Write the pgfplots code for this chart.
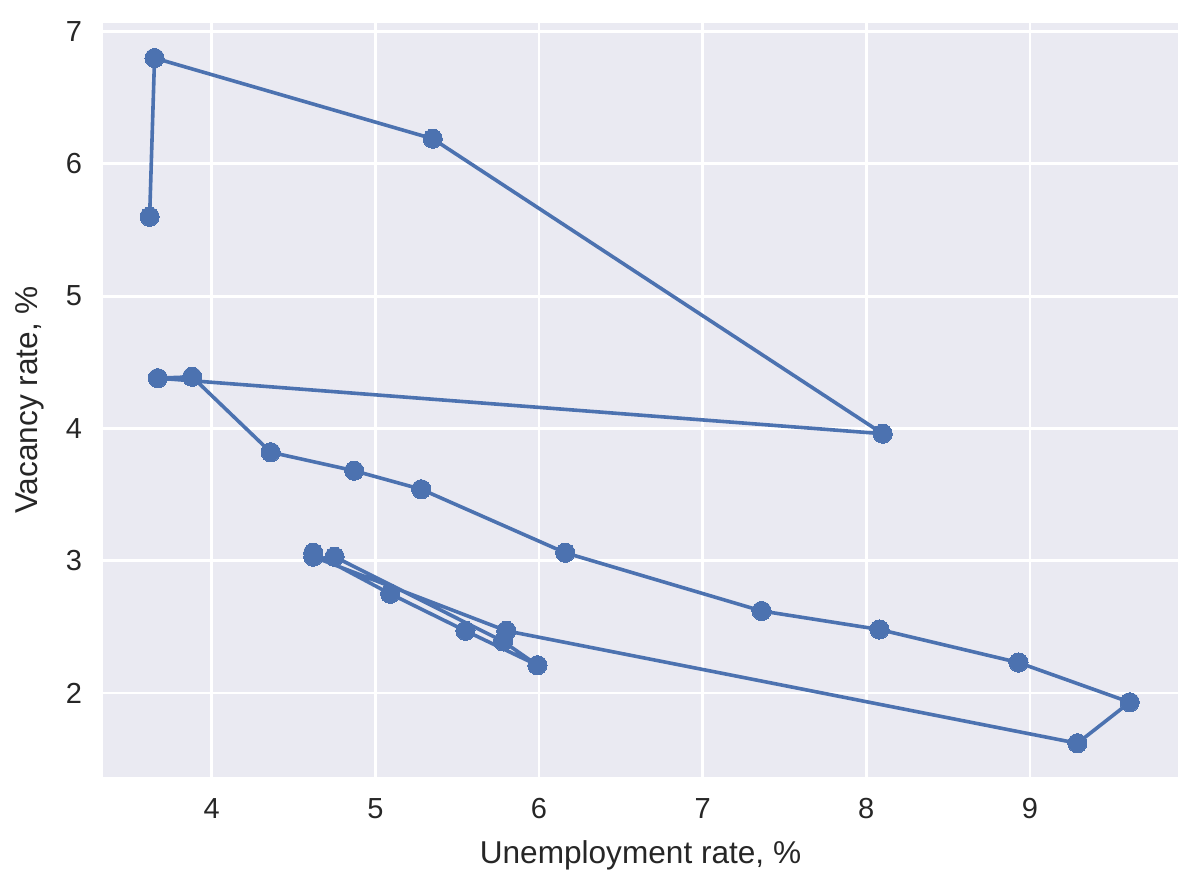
\documentclass[border=0pt]{standalone}
\usepackage{pgfplots}
\pgfplotsset{compat=1.18}
\usepackage{fontspec}
\setmainfont{Liberation Sans}
\definecolor{sbbg}{HTML}{EAEAF2}
\definecolor{sbblue}{HTML}{4C72B0}
\definecolor{sbtext}{HTML}{262626}
\begin{document}
\begin{tikzpicture}
\begin{axis}[
  scale only axis,
  width=537.5pt, height=377pt,
  xmin=3.335, xmax=9.905,
  ymin=1.365, ymax=7.065,
  axis background/.style={fill=sbbg},
  axis line style={draw=none},
  grid=major,
  major grid style={white, line width=1.4pt},
  xtick={4,5,6,7,8,9},
  ytick={2,3,4,5,6,7},
  tick style={draw=none},
  /pgf/number format/assume math mode=true,
  ticklabel style={font=\fontsize{14.5}{17}\selectfont, text=sbtext},
  xticklabel style={yshift=-7pt},
  yticklabel style={xshift=-7pt},
  label style={font=\fontsize{15.8}{19}\selectfont, text=sbtext},
  xlabel={Unemployment rate, \%},
  ylabel={Vacancy rate, \%},
  xlabel style={yshift=-4pt},
  ylabel style={yshift=4pt},
]
\addplot[color=sbblue, line width=1.8pt, mark=*, mark size=4.8pt, mark options={fill=sbblue, draw=sbblue, line width=0pt}] coordinates {
(4.75,3.03)
(5.78,2.39)
(5.99,2.21)
(5.55,2.47)
(5.09,2.75)
(4.62,3.06)
(4.62,3.03)
(5.80,2.47)
(9.29,1.62)
(9.61,1.93)
(8.93,2.23)
(8.08,2.48)
(7.36,2.62)
(6.16,3.06)
(5.28,3.54)
(4.87,3.68)
(4.36,3.82)
(3.88,4.39)
(3.67,4.38)
(8.10,3.96)
(5.35,6.19)
(3.65,6.80)
(3.62,5.60)
};
\end{axis}
\pgfresetboundingbox
\path (current axis.south west) ++(-51.5pt,-56.5pt) coordinate (bl);
\path (current axis.north east) ++(10pt,11.5pt) coordinate (tr);
\path (bl) rectangle (tr);
\end{tikzpicture}
\end{document}
